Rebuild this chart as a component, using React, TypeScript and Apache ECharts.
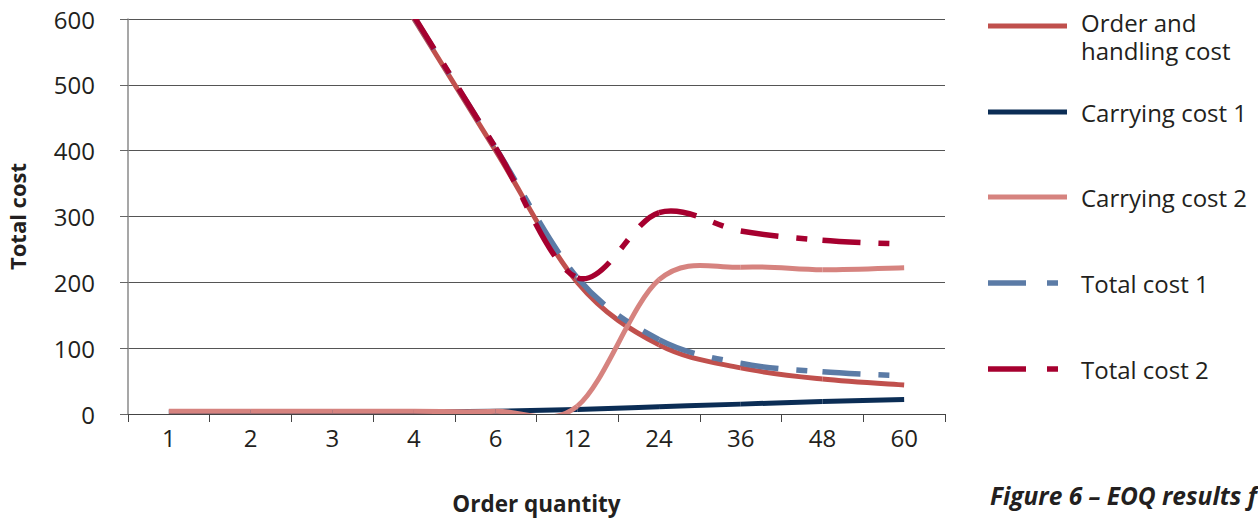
import React, { useEffect, useRef } from "react";
import * as echarts from "echarts";

// Order quantities shown on the category axis
const categories = ["1", "2", "3", "4", "6", "12", "24", "36", "48", "60"];

// Cost curves per order quantity
const orderHandling = [2400, 1200, 800, 600, 400, 200, 105, 70, 53, 44];
const carrying1 = [3, 3, 3, 3, 4, 7, 11, 15, 19, 22];
const carrying2 = [4, 4, 4, 4, 4, 12, 204, 223, 219, 222];
const total1 = [2403, 1203, 803, 603, 404, 207, 113, 77, 64, 58];
const total2 = [2404, 1204, 804, 604, 404, 207, 306, 278, 264, 258];

const yTicks = { min: 0, max: 600, interval: 100 };

const seriesNames = [
  "Order and handling cost",
  "Carrying cost 1",
  "Carrying cost 2",
  "Total cost 1",
  "Total cost 2",
];
const legendLabels = [
  ["Order and", "handling cost"],
  ["Carrying cost 1"],
  ["Carrying cost 2"],
  ["Total cost 1"],
  ["Total cost 2"],
];
const seriesColors = ["#C0504D", "#0B2D55", "#D6837F", "#5B7BA6", "#A6002F"];
const dashed = [false, false, false, true, true];

const FONT = "'Open Sans', 'Noto Sans', sans-serif";
const TEXT = "#231f20";
const DASH = [38, 18, 11, 18];

// Smooth curve through category points: one cubic segment per interval,
// with Catmull-Rom style tangents taken from the neighbouring points.
function makeRenderItem(color: string, isDashed: boolean) {
  return (params: any, api: any) => {
    const i = params.dataIndexInside;
    const n = params.dataInsideLength;
    if (i >= n - 1) return null;
    const pt = (k: number) => {
      const kk = Math.max(0, Math.min(n - 1, k));
      return api.coord([api.value(0, kk), api.value(1, kk)]);
    };
    const p0 = pt(i - 1);
    const p1 = pt(i);
    const p2 = pt(i + 1);
    const p3 = pt(i + 2);
    const t = 1 / 6;
    return {
      type: "bezierCurve",
      shape: {
        x1: p1[0],
        y1: p1[1],
        x2: p2[0],
        y2: p2[1],
        cpx1: p1[0] + (p2[0] - p0[0]) * t,
        cpy1: p1[1] + (p2[1] - p0[1]) * t,
        cpx2: p2[0] - (p3[0] - p1[0]) * t,
        cpy2: p2[1] - (p3[1] - p1[1]) * t,
      },
      style: {
        stroke: color,
        fill: null,
        lineWidth: isDashed ? 5.5 : 5,
        lineDash: isDashed ? DASH : null,
        lineCap: "butt",
      },
      silent: true,
    };
  };
}

export default function App() {
  const ref = useRef<HTMLDivElement>(null);

  useEffect(() => {
    if (!ref.current) return;
    const chart = echarts.init(ref.current, undefined, { renderer: "svg" });

    const dataSets = [orderHandling, carrying1, carrying2, total1, total2];

    // Legend: line sample plus label, stacked down the right-hand side
    const legendIconY = [26, 112, 197, 283, 369];
    const legendTextY = [22, 112, 197, 283, 369];
    const legendGraphics: any[] = [];
    seriesNames.forEach((_, i) => {
      const y = legendIconY[i];
      if (dashed[i]) {
        legendGraphics.push({
          type: "rect",
          shape: { x: 988, y: y - 2.75, width: 38, height: 5.5 },
          style: { fill: seriesColors[i] },
        });
        legendGraphics.push({
          type: "rect",
          shape: { x: 1047, y: y - 2.75, width: 11, height: 5.5 },
          style: { fill: seriesColors[i] },
        });
      } else {
        legendGraphics.push({
          type: "rect",
          shape: { x: 988, y: y - 2.5, width: 79, height: 5 },
          style: { fill: seriesColors[i] },
        });
      }
      legendLabels[i].forEach((line, j) => {
        legendGraphics.push({
          type: "text",
          x: 1081,
          y: legendTextY[i] + j * 28,
          style: {
            text: line,
            font: `24px ${FONT}`,
            fill: TEXT,
            textAlign: "left",
            textVerticalAlign: "middle",
          },
        });
      });
    });

    const option: any = {
      animation: false,
      backgroundColor: "#ffffff",
      textStyle: { fontFamily: FONT },
      grid: {
        left: 128,
        right: 313,
        top: 19,
        bottom: 106,
        containLabel: false,
        outerBoundsMode: "none",
      },
      xAxis: {
        type: "category",
        data: categories,
        boundaryGap: true,
        name: "Order quantity",
        nameLocation: "middle",
        nameGap: 78,
        nameTextStyle: { fontFamily: FONT, fontSize: 22.5, fontWeight: "bold", color: TEXT },
        axisLine: { show: true, lineStyle: { color: "#444", width: 1 } },
        axisTick: { show: true, alignWithLabel: false, length: 8, lineStyle: { color: "#444" } },
        axisLabel: { fontFamily: FONT, fontSize: 24, color: TEXT, margin: 11 },
        splitLine: { show: false },
      },
      yAxis: {
        type: "value",
        min: yTicks.min,
        max: yTicks.max,
        interval: yTicks.interval,
        name: "Total cost",
        nameLocation: "middle",
        nameRotate: 90,
        nameGap: 100,
        nameTextStyle: { fontFamily: FONT, fontSize: 22, fontWeight: "bold", color: TEXT },
        axisLine: { show: true, lineStyle: { color: "#8a8a8a", width: 1.5 } },
        axisTick: { show: true, length: 8, lineStyle: { color: "#666" } },
        axisLabel: { fontFamily: FONT, fontSize: 24, color: TEXT, margin: 33 },
        splitLine: { show: true, lineStyle: { color: "#555", width: 1 } },
      },
      series: seriesNames.map((name, i) => ({
        name,
        type: "custom",
        coordinateSystem: "cartesian2d",
        clip: true,
        data: dataSets[i].map((v, idx) => [idx, v]),
        encode: { x: 0, y: 1 },
        itemStyle: { color: seriesColors[i] },
        renderItem: makeRenderItem(seriesColors[i], dashed[i]),
        z: 2 + i,
      })),
      graphic: [
        ...legendGraphics,
        {
          type: "text",
          left: 990,
          top: 483,
          style: {
            text: "Figure 6 – EOQ results f",
            font: `italic bold 24.5px ${FONT}`,
            fill: TEXT,
          },
        },
      ],
    };

    chart.setOption(option);
    return () => chart.dispose();
  }, []);

  return (
    <div
      ref={ref}
      style={{ position: "fixed", left: 0, top: 0, width: 1258, height: 520 }}
    />
  );
}
